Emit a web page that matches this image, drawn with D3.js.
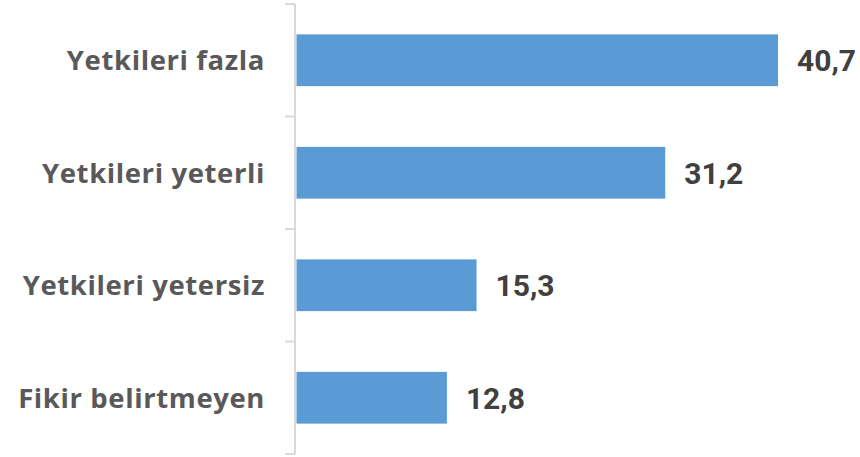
<!DOCTYPE html>
<html><head><meta charset="utf-8">
<script src="https://cdn.jsdelivr.net/npm/d3@7"></script>
<style>body{margin:0;background:#fff}svg{display:block}</style>
</head><body>
<svg id="c" width="860" height="457"></svg>
<script>
const categories = ["Yetkileri fazla", "Yetkileri yeterli", "Yetkileri yetersiz", "Fikir belirtmeyen"];
const values = [40.7, 31.2, 15.3, 12.8];
const valueLabels = ["40,7", "31,2", "15,3", "12,8"];

const svg = d3.select("#c");
const x0 = 295, yTop = 4, yBot = 454;
const x = d3.scaleLinear().domain([0, 40.7]).range([x0, 778]);
const y = d3.scaleBand().domain(categories).range([yTop, yBot]).paddingInner(0.54).paddingOuter(0.27);

// bars
svg.selectAll("rect.bar").data(values).join("rect")
  .attr("class", "bar")
  .attr("x", x(0) + 1.5)
  .attr("y", (d, i) => y(categories[i]))
  .attr("width", d => x(d) - x(0) - 1.5)
  .attr("height", y.bandwidth())
  .attr("fill", "#5B9BD5");

// axis
const band = d3.scaleBand().domain(categories).range([yTop, yBot]);
const g = svg.append("g").attr("transform", `translate(${x0},0)`);
g.append("line").attr("x1", 0).attr("x2", 0).attr("y1", yTop).attr("y2", yBot)
  .attr("stroke", "#d9d9d9").attr("stroke-width", 2);
const tickYs = categories.map(c => band(c)).concat([yBot]);
g.selectAll("line.tick").data(tickYs).join("line").attr("class", "tick")
  .attr("x1", -10).attr("x2", 0).attr("y1", d => d).attr("y2", d => d)
  .attr("stroke", "#d9d9d9").attr("stroke-width", 2);

// category labels
svg.selectAll("text.cat").data(categories).join("text")
  .attr("class", "cat")
  .attr("x", 265)
  .attr("y", d => y(d) + y.bandwidth() / 2)
  .attr("dy", "0.36em")
  .attr("text-anchor", "end")
  .attr("font-family", "'Open Sans', sans-serif")
  .attr("font-weight", "bold")
  .attr("font-size", 27.5)
  .attr("letter-spacing", 0.6)
  .attr("fill", "#595959")
  .text(d => d);

// value labels
svg.selectAll("text.val").data(values).join("text")
  .attr("class", "val")
  .attr("x", d => x(d) + 19)
  .attr("y", (d, i) => y(categories[i]) + y.bandwidth() / 2)
  .attr("dy", "0.36em")
  .attr("font-family", "Roboto, sans-serif")
  .attr("font-weight", "bold")
  .attr("font-size", 30)
  .attr("fill", "#404040")
  .text((d, i) => valueLabels[i]);
</script>
</body></html>
